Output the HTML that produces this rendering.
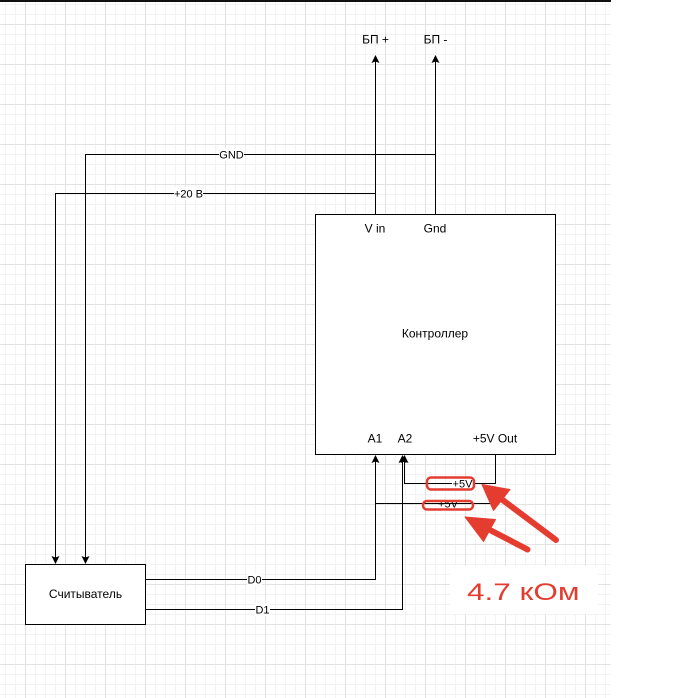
<!DOCTYPE html>
<html><head><meta charset="utf-8"><style>
html,body{margin:0;padding:0;background:#fff;}
body{width:681px;height:698px;overflow:hidden;position:relative;}
#grid{position:absolute;left:0;top:0;width:611px;height:698px;
background-image:linear-gradient(#e2e2e2 1px,transparent 1px),linear-gradient(90deg,#e2e2e2 1px,transparent 1px),linear-gradient(#f3f3f3 1px,transparent 1px),linear-gradient(90deg,#f3f3f3 1px,transparent 1px);
background-size:40px 40px,40px 40px,10px 10px,10px 10px;
background-position:0 24px,25px 0,0 4px,5px 0;}
svg{position:absolute;left:0;top:0;}
text{font-family:"Liberation Sans",Arial,sans-serif;fill:#000;}
</style></head><body>
<div id="grid"></div>
<svg width="681" height="698" viewBox="0 0 681 698" xmlns="http://www.w3.org/2000/svg">
<rect x="0" y="0" width="611" height="2" fill="#111"/>
<!-- boxes -->
<rect x="315.5" y="214.5" width="240" height="240" fill="#fff" stroke="#000" stroke-width="1"/>
<rect x="25.5" y="564.5" width="120" height="60" fill="#fff" stroke="#000" stroke-width="1"/>
<!-- lines -->
<g fill="none" stroke="#000" stroke-width="1">
<path d="M375.5 61 V214.5"/>
<path d="M435.5 61 V214.5"/>
<path d="M435.5 154.5 H85.5 V558"/>
<path d="M375.5 193.5 H55.5 V558"/>
<path d="M146 579.5 H375.5 V461"/>
<path d="M146 609.5 H402.5 V461"/>
<path d="M495.5 454.5 V483.5 H404.5 V461"/>
<path d="M375.5 503.5 H496"/>
</g>
<!-- arrowheads -->
<g fill="#000">
<polygon points="375.5,55 379.5,63 375.5,61.5 371.5,63"/>
<polygon points="435.5,55 439.5,63 435.5,61.5 431.5,63"/>
<polygon points="375.5,455 379.5,463 375.5,461.5 371.5,463"/>
<polygon points="402.5,455 406.5,463 402.5,461.5 398.5,463"/>
<polygon points="404.5,455 408.5,463 404.5,461.5 400.5,463"/>
<polygon points="55.5,564 59.5,556 55.5,557.5 51.5,556"/>
<polygon points="85.5,564 89.5,556 85.5,557.5 81.5,556"/>
</g>
<!-- edge label backgrounds -->
<g fill="#fff">
<rect x="219" y="148" width="25" height="13"/>
<rect x="174" y="187" width="29" height="13"/>
<rect x="247" y="573" width="15" height="13"/>
<rect x="255" y="603" width="15" height="13"/>
<rect x="452" y="477" width="21" height="13"/>
</g>
<!-- vertex labels -->
<g font-size="12" text-anchor="middle">
<text x="375.5" y="43.5">БП +</text>
<text x="435.5" y="43.5">БП -</text>
<text x="375" y="232.5">V in</text>
<text x="435" y="232.5">Gnd</text>
<text x="435" y="337.5">Контроллер</text>
<text x="375" y="442.5">A1</text>
<text x="405" y="442.5">A2</text>
<text x="495" y="442.5">+5V Out</text>
<text x="85.5" y="598">Считыватель</text>
</g>
<!-- edge labels -->
<g font-size="11" text-anchor="middle">
<text x="231.5" y="158.5">GND</text>
<text x="188.5" y="197.5">+20 B</text>
<text x="254.5" y="583.5">D0</text>
<text x="262.5" y="613.5">D1</text>
<text x="462.5" y="487.5">+5V</text>
<text x="448" y="507.5">+5V</text>
</g>
<line x1="430" y1="503.5" x2="466" y2="503.5" stroke="#000" stroke-width="1"/>
<!-- red highlight -->
<g fill="none" stroke="#e43d30" stroke-width="2.5">
<rect x="427" y="477.5" width="47" height="12" rx="4"/>
<rect x="423" y="501" width="50" height="8.5" rx="4"/>
</g>
<g fill="#e43d30" stroke="#e43d30">
<line x1="500" y1="498" x2="556" y2="540" stroke-width="6" stroke-linecap="round"/>
<polygon points="482,484.5 510,489.5 493.5,510.5" stroke-width="1" stroke-linejoin="round"/>
<line x1="488" y1="529" x2="527.5" y2="549.5" stroke-width="6" stroke-linecap="round"/>
<polygon points="465,517 495.5,519.5 483.5,541.5" stroke-width="1" stroke-linejoin="round"/>
</g>
<rect x="450" y="566" width="148" height="48" fill="#fff"/>
<text x="467" y="600" font-size="24" fill="#e43d30" style="fill:#e43d30" textLength="112.5" lengthAdjust="spacingAndGlyphs">4.7 кОм</text>
</svg>
</body></html>
